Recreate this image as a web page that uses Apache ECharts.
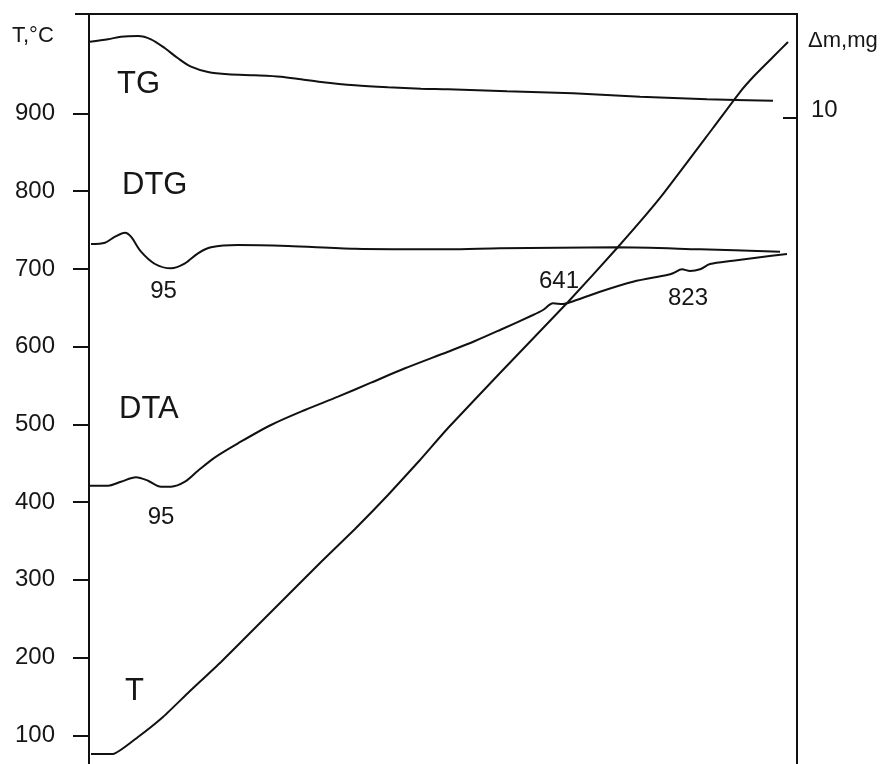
<!DOCTYPE html>
<html>
<head>
<meta charset="utf-8">
<script src="https://cdn.jsdelivr.net/npm/echarts@6/dist/echarts.min.js"></script>
<style>
html,body{margin:0;padding:0;background:#fff;}
#c{width:891px;height:764px;}
</style>
</head>
<body>
<div id="c"></div>
<script>
// Left axis: temperature (°C)
const tempTicks = [100, 200, 300, 400, 500, 600, 700, 800, 900];
// Right axis: mass (mg)
const massTicks = [10];

// T curve (x in arbitrary time units, value in °C)
const tX   = [0.2, 2.4, 4.9, 7.4, 9.9, 13.2, 16.6, 19.9, 23.2, 26.6, 29.9, 33.1, 35.9, 41.1, 47.9, 52.9, 57.1, 62.4, 65.1, 66.6, 68.4, 69.9];
const tVal = [75.9, 75.9, 97.8, 123.5, 154.4, 194.3, 238.0, 280.5, 322.9, 365.4, 409.1, 454.2, 495.3, 566.1, 657.5, 728.2, 791.3, 881.3, 927.6, 949.5, 972.7, 992.0];

// TG curve (mass, mg)
const tgX   = [0.1, 1.9, 3.2, 4.9, 6.2, 7.6, 8.9, 10.2, 11.9, 13.9, 16.6, 19.2, 21.2, 23.2, 26.6, 29.9, 33.2, 35.9, 41.8, 48.4, 55.1, 61.8, 68.4];
const tgVal = [10.763, 10.787, 10.813, 10.820, 10.787, 10.697, 10.597, 10.513, 10.460, 10.437, 10.427, 10.413, 10.387, 10.360, 10.327, 10.307, 10.293, 10.287, 10.267, 10.247, 10.213, 10.187, 10.173];

// DTG curve (relative signal)
const dtgX   = [0.2, 1.6, 2.6, 3.6, 4.2, 5.2, 6.6, 8.2, 9.6, 10.9, 12.2, 14.9, 19.9, 26.6, 35.9, 41.1, 52.8, 61.1, 69.1];
const dtgVal = [56.90, 57.03, 57.63, 58.03, 57.63, 56.13, 54.90, 54.47, 54.97, 55.97, 56.57, 56.80, 56.70, 56.43, 56.37, 56.47, 56.57, 56.37, 56.13];

// DTA curve (relative signal)
const dtaX   = [0.1, 1.9, 3.2, 4.7, 5.9, 7.2, 8.2, 9.6, 10.9, 12.6, 14.9, 18.2, 21.6, 24.9, 28.2, 31.6, 35.9, 38.6, 41.1, 44.4, 45.4, 46.4, 47.4, 48.1, 51.1, 54.4, 57.8, 58.4, 59.3, 60.1, 61.1, 62.1, 64.4, 67.1, 69.8];
const dtaVal = [32.73, 32.73, 33.13, 33.57, 33.23, 32.63, 32.63, 33.13, 34.23, 35.57, 36.97, 38.80, 40.30, 41.63, 43.03, 44.47, 46.13, 47.20, 48.30, 49.80, 50.30, 50.97, 50.90, 51.07, 52.13, 53.13, 53.80, 53.97, 54.37, 54.20, 54.37, 54.90, 55.23, 55.57, 55.90];

// Peak annotations (x, signal, text)
const peakX    = [7.45, 7.2, 47.0, 59.9];
const peakY    = [52.17, 29.6, 53.2, 51.5];
const peakText = ['95', '95', '641', '823'];

const zip = (xs, ys) => xs.map((x, i) => [x, ys[i]]);

const FONT = 'Liberation Sans, Arial, Helvetica, sans-serif';
const INK = '#111';
const TXT = '#161616';

const chart = echarts.init(document.getElementById('c'), null, {renderer: 'canvas'});

const lineBase = {
  type: 'line', symbol: 'none', showSymbol: false, silent: true,
  lineStyle: {color: INK, width: 2}
};

chart.setOption({
  animation: false,
  backgroundColor: '#fff',
  grid: {left: 89, right: 94, top: 14, bottom: 0, containLabel: false},
  xAxis: {
    type: 'value', min: 0, max: 70.8, show: false
  },
  yAxis: [
    {
      type: 'value', position: 'left', min: 63.04, max: 1028,
      axisLine: {show: true, onZero: false, lineStyle: {color: INK, width: 2}},
      axisTick: {show: true, inside: false, length: 16, customValues: tempTicks, lineStyle: {color: INK, width: 2}},
      axisLabel: {show: true, margin: 34, customValues: tempTicks, color: TXT, fontSize: 24, fontFamily: FONT},
      splitLine: {show: false}
    },
    {
      type: 'value', position: 'right', min: 3.54, max: 11.04,
      axisLine: {show: true, onZero: false, lineStyle: {color: INK, width: 2}},
      axisTick: {show: true, inside: true, length: 14, customValues: massTicks, lineStyle: {color: INK, width: 2}},
      axisLabel: {show: true, margin: 14, customValues: massTicks, color: TXT, fontSize: 24, fontFamily: FONT, verticalAlign: 'bottom', lineHeight: 16},
      splitLine: {show: false}
    },
    {
      type: 'value', min: 4.9, max: 79.9, show: false
    }
  ],
  series: [
    Object.assign({}, lineBase, {name: 'T', yAxisIndex: 0, smooth: 0.15, data: zip(tX, tVal)}),
    Object.assign({}, lineBase, {name: 'TG', yAxisIndex: 1, smooth: 0.3, data: zip(tgX, tgVal)}),
    Object.assign({}, lineBase, {name: 'DTG', yAxisIndex: 2, smooth: 0.3, data: zip(dtgX, dtgVal)}),
    Object.assign({}, lineBase, {name: 'DTA', yAxisIndex: 2, smooth: 0.3, data: zip(dtaX, dtaVal)}),
    {
      type: 'scatter', yAxisIndex: 2, symbolSize: 1, silent: true,
      itemStyle: {color: 'rgba(0,0,0,0)', opacity: 1},
      data: peakX.map((x, i) => ({value: [x, peakY[i]], name: peakText[i]})),
      label: {show: true, position: 'inside', formatter: '{b}', color: TXT, opacity: 1, fontSize: 24, fontFamily: FONT, textBorderWidth: 0}
    }
  ],
  graphic: [
    {type: 'line', shape: {x1: 75, y1: 14, x2: 798, y2: 14}, style: {stroke: INK, lineWidth: 2}, silent: true},
    {type: 'text', x: 12, y: 36, style: {text: 'T,°C', fontSize: 22, fontFamily: FONT, fill: TXT, align: 'left', verticalAlign: 'middle', textAlign: 'left', textVerticalAlign: 'middle'}},
    {type: 'text', x: 808, y: 41, style: {text: 'Δm,mg', fontSize: 22, fontFamily: FONT, fill: TXT, align: 'left', verticalAlign: 'middle', textAlign: 'left', textVerticalAlign: 'middle'}},
    {type: 'text', x: 117, y: 84, style: {text: 'TG', fontSize: 31, fontFamily: FONT, fill: TXT, align: 'left', verticalAlign: 'middle', textAlign: 'left', textVerticalAlign: 'middle'}},
    {type: 'text', x: 122, y: 185, style: {text: 'DTG', fontSize: 31, fontFamily: FONT, fill: TXT, align: 'left', verticalAlign: 'middle', textAlign: 'left', textVerticalAlign: 'middle'}},
    {type: 'text', x: 119, y: 409, style: {text: 'DTA', fontSize: 31, fontFamily: FONT, fill: TXT, align: 'left', verticalAlign: 'middle', textAlign: 'left', textVerticalAlign: 'middle'}},
    {type: 'text', x: 125, y: 691, style: {text: 'T', fontSize: 31, fontFamily: FONT, fill: TXT, align: 'left', verticalAlign: 'middle', textAlign: 'left', textVerticalAlign: 'middle'}}
  ]
});
</script>
</body>
</html>
